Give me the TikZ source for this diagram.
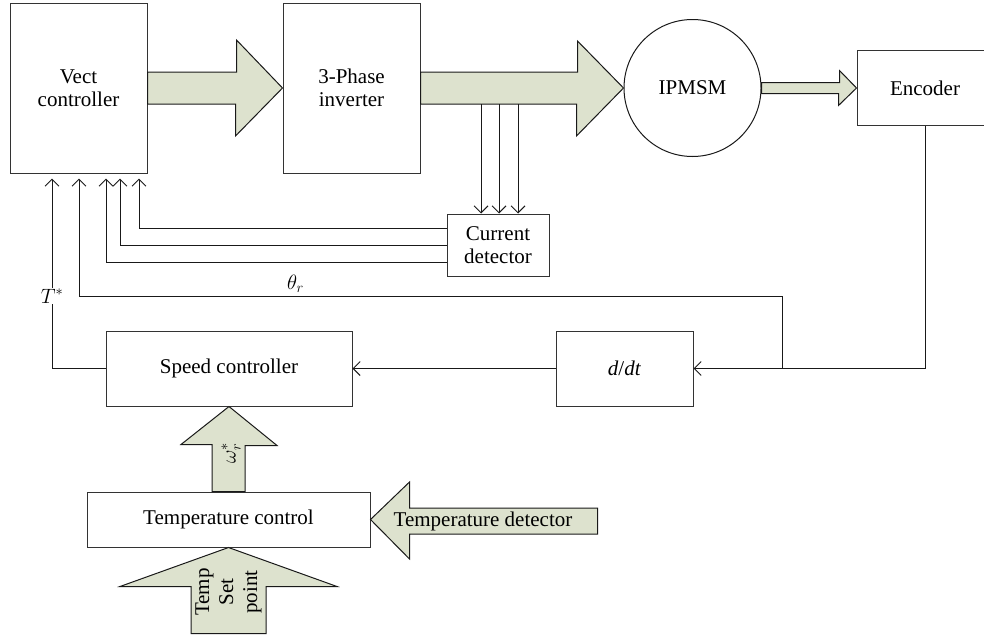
\documentclass[tikz,border=0pt]{standalone}
\usepackage{fontspec}
\setmainfont{Liberation Serif}
\usetikzlibrary{shapes.geometric, arrows.meta}
\definecolor{arrowfill}{RGB}{221,226,206}
\tikzstyle{block} = [rectangle, 
minimum width=137pt, 
minimum height=75pt, 
inner sep=0pt,
text centered, 
align=center,
draw=black!80, 
line width=1pt]
\tikzstyle{machine} = [circle, 
minimum size=137pt, 
inner sep=0pt,
draw=black!90, 
line width=1pt]
\tikzstyle{fatarrow} = [draw=black!90, line width=1pt, fill=arrowfill, line join=miter]
\tikzstyle{sig} = [draw=black!90, line width=1pt, -{Straight Barb[length=7pt,width=14pt]}]

\begin{document}
\begin{tikzpicture}[x=1pt, y=-1pt, node distance=273pt, font=\fontsize{21}{23}\selectfont]
  \useasboundingbox (0,0) rectangle (984,640);
  \node (vect) [block, minimum height=170pt] at (78.5,88) {Vect\\controller};
  \node (inv) [block, minimum height=170pt, right of=vect] {3-Phase\\inverter};
  \node (motor) [machine, right of=inv, xshift=68pt] {IPMSM};
  \node (enc) [block, minimum width=136pt, right of=motor, xshift=-40.5pt] {Encoder};
  \node (cur) [block, minimum width=102pt, minimum height=62pt] at (498,245) {Current\\detector};
  \node (speed) [block, minimum width=246pt] at (229,368.5) {Speed controller};
  \node (ddt) [block, right of=speed, xshift=122.5pt] {\textit{d}/\textit{dt}};
  \node (temp) [block, minimum width=283pt, minimum height=55pt] at (228.5,519.5) {Temperature control};

  % power path
  \draw [fatarrow] ([yshift=16pt]vect.east) -- ++(89,0) -- ++(0,-32) -- (inv.west)
    -- ++(-47,48) -- ++(0,-32) -- ([yshift=-16pt]vect.east) -- cycle;
  \draw [fatarrow] ([yshift=16pt]inv.east) -- ++(157,0) -- ++(0,-31) -- (motor.west)
    -- ++(-47,48) -- ++(0,-32) -- ([yshift=-16pt]inv.east) -- cycle;
  \draw [fatarrow] ([yshift=5.5pt]motor.east) -- ++(78,0) -- ++(0,-12) -- (enc.west)
    -- ++(-18,17.5) -- ++(0,-12) -- ([yshift=-5.5pt]motor.east) -- cycle;

  % temperature loop
  \draw [fatarrow] ([xshift=-16.5pt]temp.north) -- ++(0,-47) -- ++(-31,0) -- (speed.south)
    -- ++(48,39) -- ++(-32,0) -- ([xshift=16.5pt]temp.north) -- cycle;
  \draw [fatarrow] ([xshift=-37.5pt,yshift=-86pt]temp.south) -- ++(0,-47) -- ++(-71,0) -- (temp.south)
    -- ++(108.5,39) -- ++(-71,0) -- ++(0,47) -- cycle;
  \draw [fatarrow] ([xshift=227pt,yshift=11.5pt]temp.east) -- ++(-188,0) -- ++(0,-26) -- (temp.east)
    -- ++(39,39.5) -- ++(0,-25) -- ++(188,0) -- cycle;
  \node (wref) [rotate=90] at (231,453) {$\omega_r^*$};
  \node (setpt) [rotate=90, align=center, font=\fontsize{21}{24}\selectfont] at (228.5,592) {Temp\\Set\\point};
  \node (tdet) at (483,521) {Temperature detector};

  % current sensing
  \coordinate (ph1) at (481,104);
  \coordinate (ph2) at (499,104);
  \coordinate (ph3) at (518,104);
  \draw [sig] (ph1) -- (ph1 |- cur.north);
  \draw [sig] (ph2) -- (ph2 |- cur.north);
  \draw [sig] (ph3) -- (ph3 |- cur.north);
  \draw [sig] ([yshift=17pt]cur.west) -| ([xshift=60.5pt,yshift=-5pt]vect.south);
  \draw [sig] (cur.west) -| ([xshift=41.5pt,yshift=-5pt]vect.south);
  \draw [sig] ([yshift=-17pt]cur.west) -| ([xshift=27.5pt,yshift=-5pt]vect.south);

  % position and speed feedback
  \coordinate (tap) at (782,368.5);
  \draw [sig] (enc.south) |- (ddt.east);
  \draw [sig] (tap) -- ++(0,-72.5) -| node[pos=0.346, above] {$\theta_r$} ([xshift=0.5pt,yshift=-5pt]vect.south);
  \draw [sig] (ddt.west) -- (speed.east);
  \draw [sig] (speed.west) -| node[pos=0.69, fill=white, inner sep=1pt] {$T^*$} ([xshift=-26.5pt,yshift=-5pt]vect.south);
\end{tikzpicture}
\end{document}
